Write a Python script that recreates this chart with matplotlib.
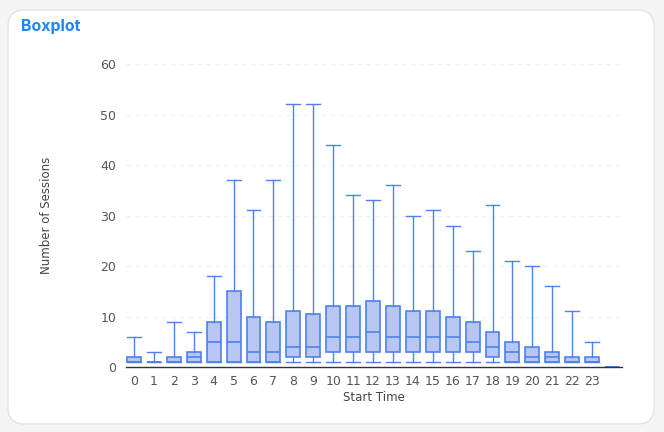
import matplotlib
matplotlib.use("Agg")
import matplotlib.pyplot as plt
from matplotlib.patches import FancyBboxPatch

# Box stats per start hour
hours = list(range(25))
labels = [str(h) for h in range(24)] + [""]
mins    = [1, 1, 1, 1, 1, 1, 1, 1, 1, 1, 1, 1, 1, 1, 1, 1, 1, 1, 1, 1, 1, 1, 1, 1, 0]
q1s     = [1, 1, 1, 1, 1, 1, 1, 1, 2, 2, 3, 3, 3, 3, 3, 3, 3, 3, 2, 1, 1, 1, 1, 1, 0]
medians = [1, 1, 1, 2, 5, 5, 3, 3, 4, 4, 6, 6, 7, 6, 6, 6, 6, 5, 4, 3, 2, 2, 1, 1, 0]
q3s     = [2, 1, 2, 3, 9, 15, 10, 9, 11, 10.5, 12, 12, 13, 12, 11, 11, 10, 9, 7, 5, 4, 3, 2, 2, 0]
maxs    = [6, 3, 9, 7, 18, 37, 31, 37, 52, 52, 44, 34, 33, 36, 30, 31, 28, 23, 32, 21, 20, 16, 11, 5, 0]

EDGE = "#4d82ec"
FILL = "#b9c6f3"

fig = plt.figure(figsize=(6.64, 4.32), dpi=100)
fig.patch.set_facecolor("#f4f4f4")
card = FancyBboxPatch((8 / 664, 8 / 432), 646 / 664, 414 / 432,
                      boxstyle="round,pad=0,rounding_size=0.025",
                      transform=fig.transFigure, facecolor="white",
                      edgecolor="#dfe3ee", linewidth=1.0, mutation_aspect=664 / 432,
                      zorder=-10)
fig.patches.append(card)

fig.text(21 / 664, 1 - 27 / 432, "Boxplot", color="#1a87f5", fontsize=11.5,
         fontweight="bold", family="Inter", va="center", ha="left")

ax = fig.add_axes([126 / 664, 1 - 367 / 432, 496 / 664, 303 / 432])
ax.set_facecolor("none")

stats = []
for i in hours:
    stats.append({"whislo": mins[i], "q1": q1s[i], "med": medians[i],
                  "q3": q3s[i], "whishi": maxs[i], "fliers": [], "label": labels[i]})

ax.bxp(stats, positions=hours, widths=0.7, showfliers=False, patch_artist=True,
       boxprops=dict(facecolor=FILL, edgecolor=EDGE, linewidth=1.2),
       medianprops=dict(color=EDGE, linewidth=1.2),
       whiskerprops=dict(color=EDGE, linewidth=1.0),
       capprops=dict(color=EDGE, linewidth=1.0),
       capwidths=0.7)

ax.set_xlim(-0.4, 24.5)
ax.set_ylim(0, 60)
ax.set_yticks(range(0, 61, 10))
ax.set_xticks(hours)
ax.set_xticklabels(labels)
ax.yaxis.grid(True, linestyle=(0, (4, 4)), color="#f0f0f0", linewidth=0.8)
ax.set_axisbelow(True)

for side in ["top", "right", "left"]:
    ax.spines[side].set_visible(False)
ax.spines["bottom"].set_color("#333333")
ax.spines["bottom"].set_linewidth(1.0)

ax.tick_params(axis="y", length=0, pad=7, labelsize=9, labelcolor="#555555")
ax.tick_params(axis="x", length=0, pad=6, labelsize=9, labelcolor="#555555")

ax.set_xlabel("Start Time", fontsize=8.5, color="#444444", labelpad=2)
ax.set_ylabel("Number of Sessions", fontsize=8.5, color="#444444", labelpad=34)

fig.savefig("out.png", dpi=100, facecolor=fig.get_facecolor())
